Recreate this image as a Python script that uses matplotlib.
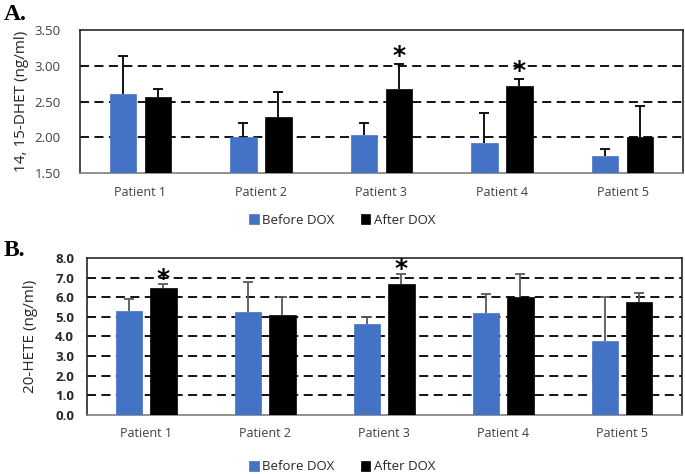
import matplotlib
matplotlib.use("Agg")
import matplotlib.pyplot as plt
import numpy as np

patients = ["Patient 1", "Patient 2", "Patient 3", "Patient 4", "Patient 5"]
series = ["Before DOX", "After DOX"]

dhet_before = [2.60, 2.00, 2.03, 1.92, 1.74]
dhet_before_err = [0.53, 0.20, 0.17, 0.42, 0.09]
dhet_after = [2.57, 2.29, 2.67, 2.71, 2.00]
dhet_after_err = [0.11, 0.34, 0.35, 0.10, 0.44]
dhet_sig = [False, False, True, True, False]

hete_before = [5.32, 5.27, 4.66, 5.19, 3.78]
hete_before_err = [0.60, 1.53, 0.32, 0.95, 2.24]
hete_after = [6.45, 5.10, 6.67, 5.99, 5.78]
hete_after_err = [0.22, 0.89, 0.51, 1.19, 0.43]
hete_sig = [True, False, True, False, False]

blue = "#4472C4"
plt.rcParams['font.family'] = ['Open Sans', 'DejaVu Sans']

fig = plt.figure(figsize=(6.85, 4.74), dpi=100)

def upper_err(ax, xs, tops, errs, color):
    xs = np.asarray(xs); tops = np.asarray(tops); errs = np.asarray(errs)
    ax.vlines(xs, tops, tops + errs, color=color, linewidth=1.3, zorder=4)
    ax.plot(xs, tops + errs, linestyle="none", marker="_", markersize=7, markeredgewidth=1.3,
            color=color, zorder=4)

def panel(rect, b, be, a, ae, sig, ylim, yticks, fmt, ylabel, tickbold, errc, star_off, leg_y, letter, letter_pos, ylab_x):
    ax = fig.add_axes(rect)
    x = np.arange(len(patients))
    w = 0.22
    off = 0.145
    ax.bar(x - off, b, w, color=blue, edgecolor=blue, linewidth=0.5, label=series[0], zorder=3)
    ax.bar(x + off, a, w, color="black", edgecolor="black", linewidth=0.5, label=series[1], zorder=3)
    upper_err(ax, x - off, b, be, errc)
    upper_err(ax, x + off, a, ae, errc)
    for i, s in enumerate(sig):
        if s:
            ax.annotate("*", (x[i] + off, a[i] + ae[i]), xytext=(0, star_off), textcoords="offset points",
                        ha="center", va="center", fontsize=18, fontweight="bold", family="DejaVu Sans")
    ax.set_xlim(-0.5, len(patients) - 0.5)
    ax.set_ylim(*ylim)
    ax.set_yticks(yticks)
    ax.set_yticklabels([fmt.format(v) for v in yticks], fontsize=9.5,
                       fontweight="bold" if tickbold else "normal", color="#262626" if tickbold else "#404040")
    ax.set_xticks(x)
    ax.set_xticklabels(patients, fontsize=9, color="#404040")
    ax.tick_params(axis="both", length=0)
    ax.tick_params(axis="y", pad=14 if not tickbold else 9)
    ax.tick_params(axis="x", pad=9)
    for v in yticks[1:-1]:
        ax.axhline(v, color="black", linestyle=(0, (5, 3)), linewidth=1.3, zorder=1)
    for sp in ax.spines.values():
        sp.set_color("#262626")
        sp.set_linewidth(1.2)
    ax.spines["bottom"].set_color("#7f7f7f")
    fig.text(ylab_x, rect[1] + rect[3] / 2, ylabel, rotation=90, ha="center", va="center", fontsize=11, color="#262626")
    ax.legend(loc="center", bbox_to_anchor=(0.5, leg_y), bbox_transform=fig.transFigure, ncol=2, frameon=False,
              fontsize=9.5, handlelength=0.7, handleheight=0.7, handletextpad=0.3, columnspacing=2.0,
              labelcolor="#262626")
    fig.text(letter_pos[0], letter_pos[1], letter, fontsize=17, fontweight="bold", family="Liberation Serif",
             ha="left", va="center")
    return ax

panel([0.1168, 0.635, 0.880, 0.3017], dhet_before, dhet_before_err, dhet_after, dhet_after_err, dhet_sig,
      (1.5, 3.5), [1.5, 2.0, 2.5, 3.0, 3.5], "{:.2f}", "14, 15-DHET (ng/ml)", False, "black", 6,
      1 - 220 / 474, "A.", (0.005, 1 - 14 / 474), 0.031)
panel([0.1266, 0.1245, 0.8685, 0.3312], hete_before, hete_before_err, hete_after, hete_after_err, hete_sig,
      (0, 8), [0, 1, 2, 3, 4, 5, 6, 7, 8], "{:.1f}", "20-HETE (ng/ml)", True, "#595959", 4,
      1 - 467 / 474, "B.", (0.005, 1 - 250 / 474), 0.044)

fig.savefig("out.png", dpi=100)
